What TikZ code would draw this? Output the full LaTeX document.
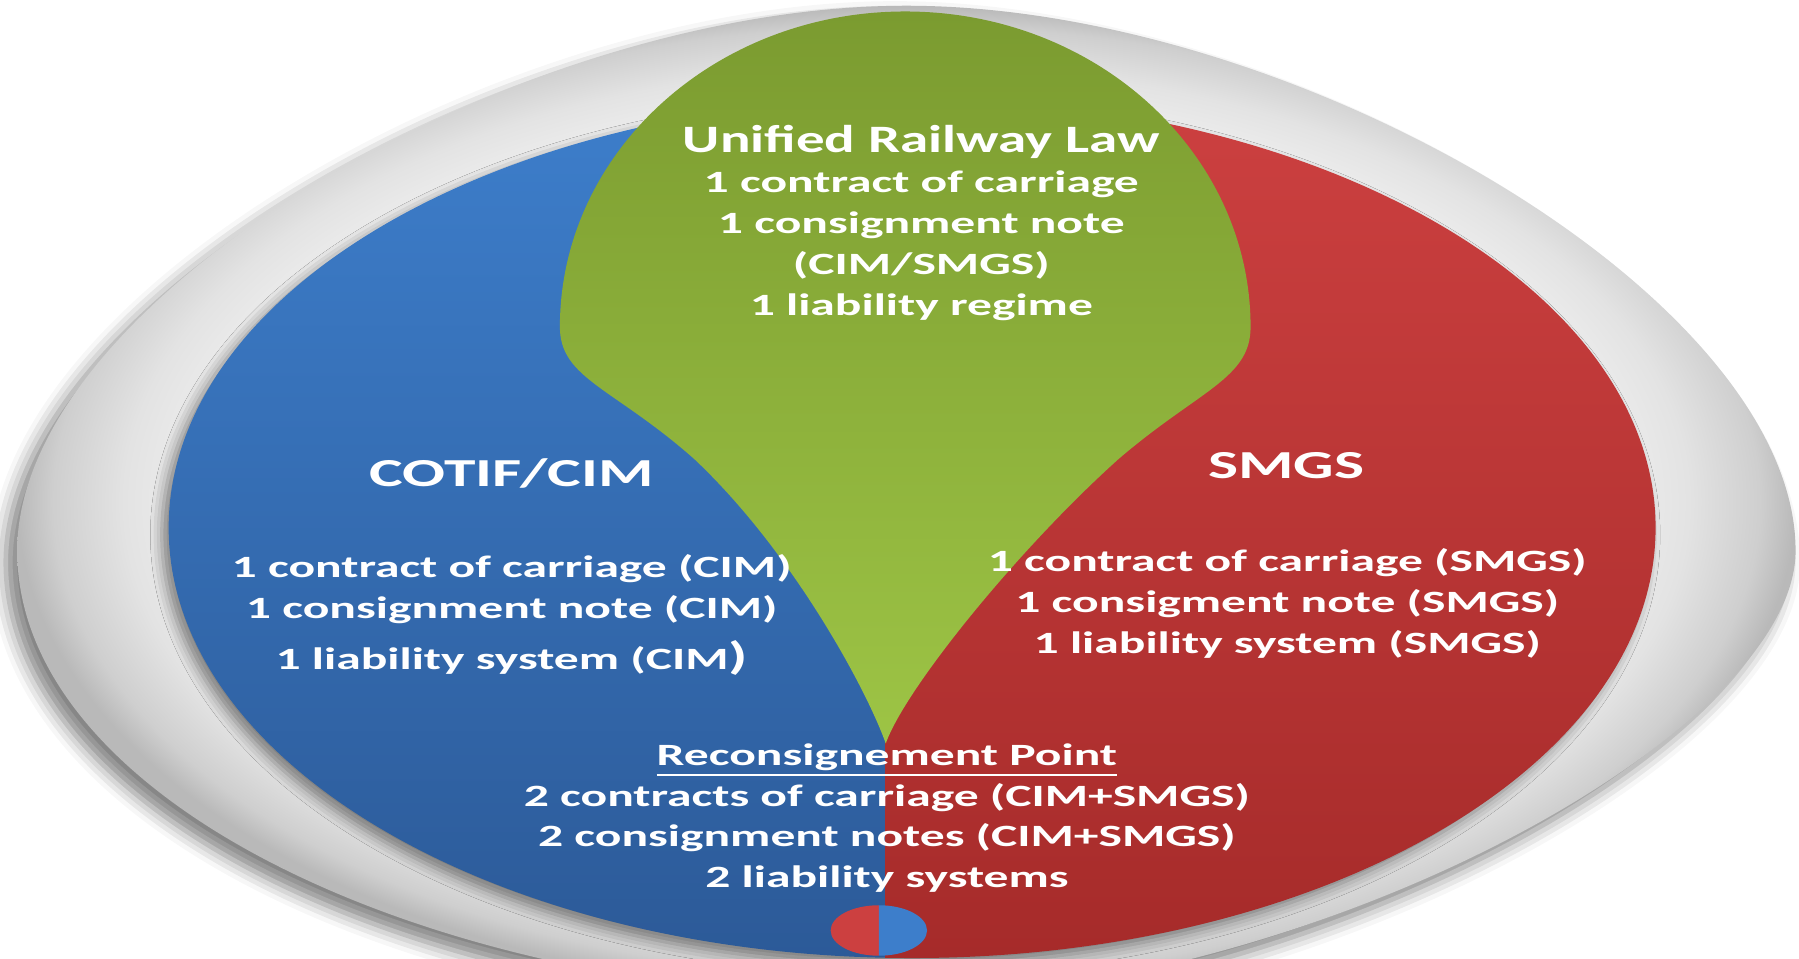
\documentclass[tikz,border=0pt]{standalone}
\usepackage{fontspec}
\setmainfont{Carlito}
\newfontfamily\wfont{Carlito}[FakeStretch=1.60]
\newfontfamily\tfont{Carlito}[FakeStretch=1.47]
\usetikzlibrary{shadows.blur}
\definecolor{bluetop}{HTML}{3D7ECB}
\definecolor{bluebot}{HTML}{2C5A98}
\definecolor{redtop}{HTML}{CC4040}
\definecolor{redbot}{HTML}{A62B2A}
\definecolor{greentop}{HTML}{7B9B30}
\definecolor{greenbot}{HTML}{9DC445}
\pgfdeclareradialshading{rim}{\pgfpoint{0bp}{0bp}}{color(0bp)=(white); color(16bp)=(white); color(19bp)=(gray!10); color(22bp)=(gray!22); color(24bp)=(gray!38); color(25bp)=(gray!55); color(50bp)=(gray!55)}
\newcommand\ulx[1]{\vtop{\hbox{#1}\kern1.5pt\hrule height 1pt}}
\tikzset{
  body/.style={text=white, align=center, inner sep=0pt,
    font=\wfont\bfseries\fontsize{13.5}{17.75}\selectfont},
  head/.style={text=white, align=center, inner sep=0pt,
    font=\wfont\bfseries\fontsize{17.3}{20}\selectfont},
}
\begin{document}
\begin{tikzpicture}[x=0.5pt,y=-0.5pt]
\useasboundingbox (0,0) rectangle (1568,835);
\clip (0,0) rectangle (1568,835);
% outer grey egg
\shade[shading=rim, blur shadow={shadow xshift=-5pt, shadow yshift=-5pt, shadow blur radius=7pt, shadow opacity=50}]
  (15,480) .. controls (15,260) and (450,5) .. (790,5)
  .. controls (1130,5) and (1565,260) .. (1565,480)
  .. controls (1565,640) and (1140,870) .. (780,870)
  .. controls (380,870) and (15,700) .. (15,480) -- cycle;
% inner ellipse shadow
\path[blur shadow={shadow xshift=-3pt, shadow yshift=-3pt, shadow blur radius=5pt, shadow opacity=45}]
  (795,460) ellipse [x radius=648, y radius=375];
\begin{scope}
  \clip (0,0) rectangle (772,835);
  \shade[top color=bluetop, bottom color=bluebot] (795,460) ellipse [x radius=648, y radius=375];
\end{scope}
\begin{scope}
  \clip (772,0) rectangle (1568,835);
  \shade[top color=redtop, bottom color=redbot] (795,460) ellipse [x radius=648, y radius=375];
\end{scope}
% green drop
\shade[top color=greentop, bottom color=greenbot]
  (772,648) .. controls (755,600) and (690,480) .. (605,400)
  .. controls (535,338) and (488,330) .. (488,285)
  arc [start angle=180, end angle=360, x radius=301, y radius=275]
  .. controls (1090,330) and (1045,340) .. (975,400)
  .. controls (888,478) and (789,600) .. (772,648) -- cycle;
% small split circle
\begin{scope}
  \clip (0,0) rectangle (766,835);
  \fill[redtop] (766,811) ellipse [x radius=42, y radius=22];
\end{scope}
\begin{scope}
  \clip (766,0) rectangle (1568,835);
  \fill[bluetop] (766,811) ellipse [x radius=42, y radius=22];
\end{scope}
% texts
\node[body] (unified) at (803,194) {{\tfont\fontsize{16.9}{17.75}\selectfont Unified Railway Law}\\1 contract of carriage\\1 consignment note\\(CIM/SMGS)\\1 liability regime};
\node[head] (cotif) at (446,413) {COTIF/CIM};
\node[body] (cim) at (446,536) {1 contract of carriage (CIM)\\1 consignment note (CIM)\\[4.5pt]1 liability system (CIM{\fontsize{17}{17}\selectfont )}};
\node[head] (smgs) at (1121,406) {SMGS};
\node[body] (smgsl) at (1122,526) {1 contract of carriage (SMGS)\\1 consigment note (SMGS)\\1 liability system (SMGS)};
\node[body] (recon) at (773,713) {\ulx{Reconsignement Point}\\2 contracts of carriage (CIM+SMGS)\\2 consignment notes (CIM+SMGS)\\2 liability systems};
\end{tikzpicture}
\end{document}
